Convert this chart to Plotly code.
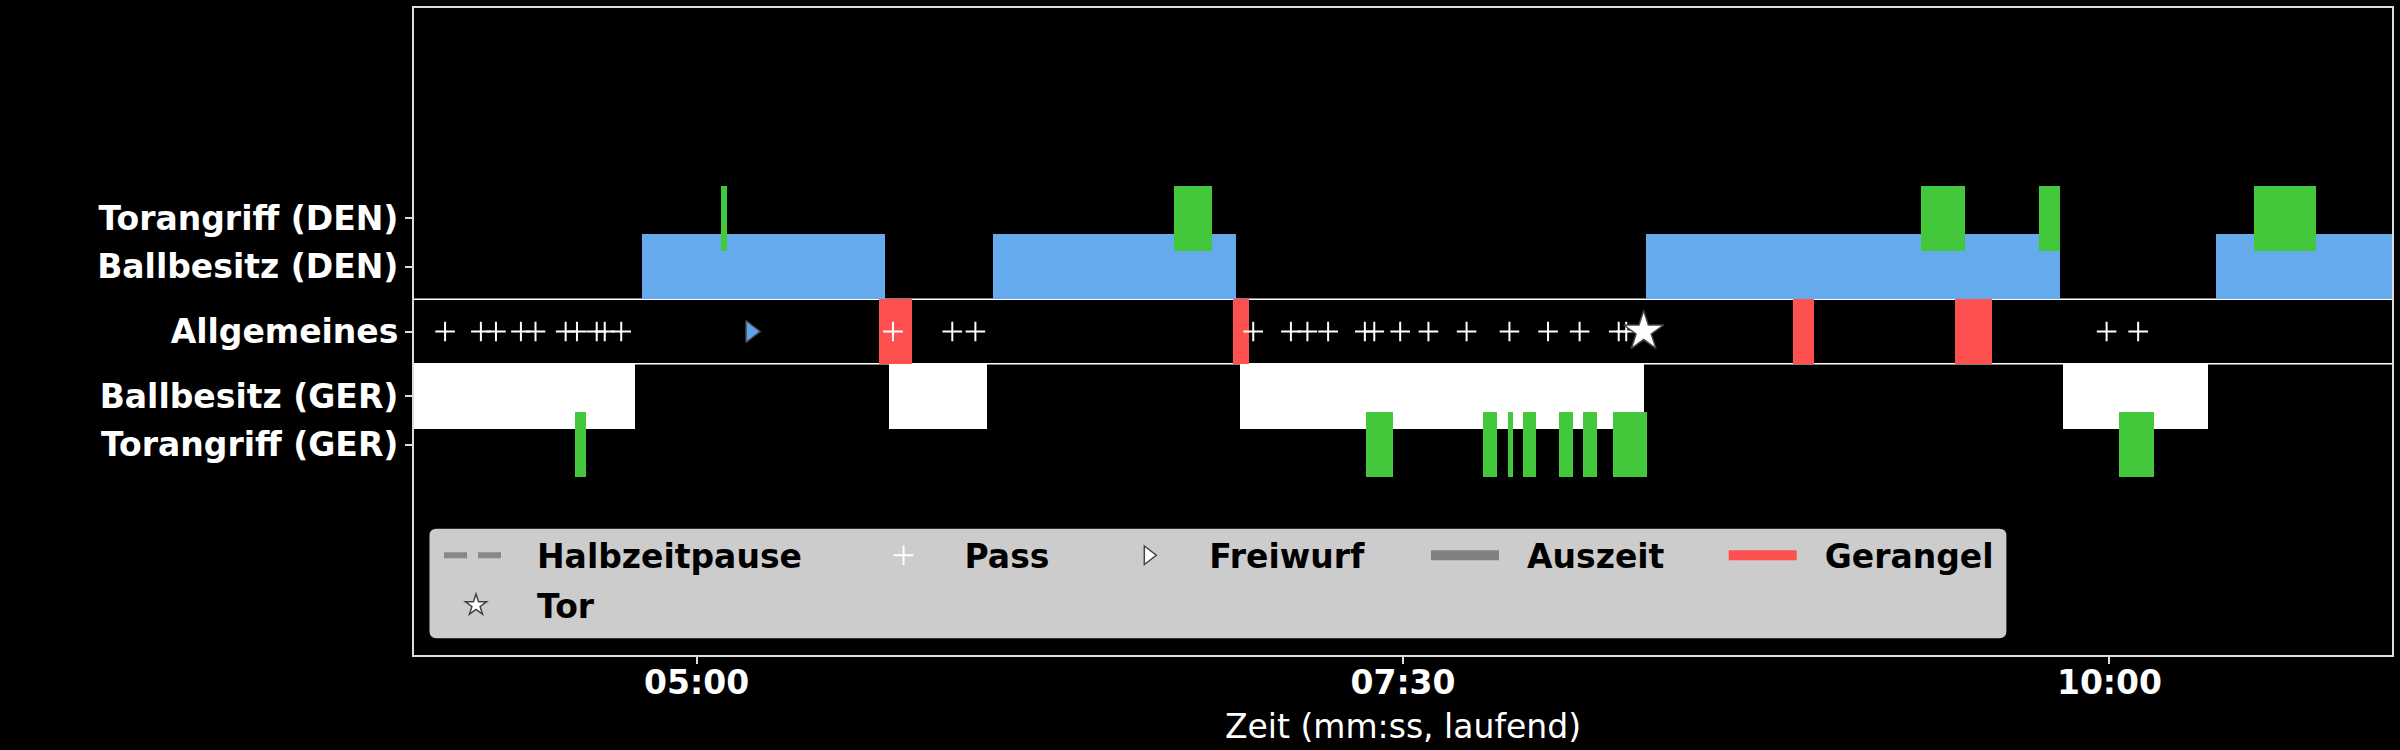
import plotly.graph_objects as go

# ---------------- data (seconds of running game time) ----------------
den_poss_start = [288.5, 362.9, 501.5, 622.6]
den_poss_end = [340.0, 414.6, 589.5, 660.0]

ger_poss_start = [240.0, 340.9, 415.3, 590.2]
ger_poss_end = [286.9, 361.7, 501.1, 621.0]

den_att_start = [305.1, 401.3, 559.9, 585.0, 630.8]
den_att_end = [306.4, 409.4, 569.4, 589.4, 643.9]

ger_att_start = [274.1, 442.2, 466.9, 472.4, 475.5, 483.1, 488.3, 494.5, 602.0]
ger_att_end = [276.5, 447.9, 470.0, 473.4, 478.2, 486.2, 491.2, 501.8, 609.5]

gerangel_start = [338.8, 413.8, 532.9, 567.3]
gerangel_end = [345.8, 417.2, 537.3, 575.1]

pass_times = [246.6, 254.2, 257.4, 262.7, 265.8, 272.2, 274.6, 278.8, 280.5, 284.0,
              341.7, 354.3, 359.2, 418.2, 426.2, 429.7, 434.1, 441.9, 443.9, 449.4,
              455.4, 463.5, 472.6, 480.8, 487.5, 495.8, 497.4, 599.4, 606.1]
freiwurf_times = [311.5]
tor_times = [501.1]

row_labels = ["Torangriff (DEN)", "Ballbesitz (DEN)", "Allgemeines",
              "Ballbesitz (GER)", "Torangriff (GER)"]
x_tick_seconds = [300, 450, 600]
x_tick_labels = ["05:00", "07:30", "10:00"]
x_title = "Zeit (mm:ss, laufend)"

# ---------------- layout constants ----------------
ROW_Y = {"Torangriff (DEN)": 1.75, "Ballbesitz (DEN)": 1.0, "Allgemeines": 0.0,
         "Ballbesitz (GER)": -1.0, "Torangriff (GER)": -1.75}
BLUE = "#66aaee"
GREEN = "#42c83a"
RED = "#ff5050"
WHITE = "#ffffff"
SPINE = "#dddddd"
FONT = "DejaVu Sans"

W, H = 2400, 750
ML, MR, MT, MB = 414, 6, 6, 95
PW, PH = W - ML - MR, H - MT - MB


def px2paper_x(px):
    return (px - ML) / PW


def px2paper_y(py):
    return (H - MB - py) / PH


fig = go.Figure()


def add_bars(starts, ends, row, color):
    fig.add_trace(go.Bar(
        orientation="h",
        base=starts,
        x=[e - s for s, e in zip(starts, ends)],
        y=[ROW_Y[row]] * len(starts),
        width=1.0,
        marker=dict(color=color, line=dict(width=0)),
        showlegend=False,
        hoverinfo="skip",
    ))


add_bars(ger_poss_start, ger_poss_end, "Ballbesitz (GER)", WHITE)
add_bars(den_poss_start, den_poss_end, "Ballbesitz (DEN)", BLUE)
add_bars(gerangel_start, gerangel_end, "Allgemeines", RED)
add_bars(den_att_start, den_att_end, "Torangriff (DEN)", GREEN)
add_bars(ger_att_start, ger_att_end, "Torangriff (GER)", GREEN)

fig.add_trace(go.Scatter(
    x=pass_times, y=[ROW_Y["Allgemeines"]] * len(pass_times), mode="markers",
    marker=dict(symbol="cross-thin", size=14, line=dict(color=WHITE, width=2)),
    showlegend=False, hoverinfo="skip"))
fig.add_trace(go.Scatter(
    x=freiwurf_times, y=[ROW_Y["Allgemeines"]] * len(freiwurf_times), mode="markers",
    marker=dict(symbol="triangle-right", size=19, color="#5ea2ea",
                line=dict(color="#444444", width=1.5)),
    showlegend=False, hoverinfo="skip"))
fig.add_trace(go.Scatter(
    x=tor_times, y=[ROW_Y["Allgemeines"]] * len(tor_times), mode="markers",
    marker=dict(symbol="star", size=30, color=WHITE,
                line=dict(color="#444444", width=1.5)),
    showlegend=False, hoverinfo="skip"))

# ---------------- legend proxies ----------------
fig.add_trace(go.Scatter(x=[None], y=[None], mode="lines", name="Halbzeitpause",
                         line=dict(color="#888888", width=6,
                                   dash="0px,24px,23px,11px,23px,300px"),
                         legend="legend"))
fig.add_trace(go.Scatter(x=[None], y=[None], mode="markers", name="Pass",
                         marker=dict(symbol="cross-thin", size=14,
                                     line=dict(color=WHITE, width=2)),
                         legend="legend2"))
fig.add_trace(go.Scatter(x=[None], y=[None], mode="markers", name="Freiwurf",
                         marker=dict(symbol="triangle-right", size=16, color=WHITE,
                                     line=dict(color="#444444", width=1.5)),
                         legend="legend3"))
fig.add_trace(go.Scatter(x=[None], y=[None], mode="lines", name="Auszeit",
                         line=dict(color="#808080", width=10,
                                   dash="0px,21px,68px,300px"),
                         legend="legend4"))
fig.add_trace(go.Scatter(x=[None], y=[None], mode="lines", name="Gerangel",
                         line=dict(color=RED, width=10,
                                   dash="0px,21px,68px,300px"),
                         legend="legend5"))
fig.add_trace(go.Scatter(x=[None], y=[None], mode="markers", name="Tor",
                         marker=dict(symbol="star", size=16, color=WHITE,
                                     line=dict(color="#444444", width=1.5)),
                         legend="legend6"))

legend_font = dict(family=FONT, size=33, color="black", weight="bold")


def legend_cfg(text_px, text_py):
    return dict(
        x=px2paper_x(text_px - 122), y=px2paper_y(text_py),
        xanchor="left", yanchor="middle", xref="paper", yref="paper",
        bgcolor="rgba(0,0,0,0)", borderwidth=0, itemwidth=112,
        font=legend_font, itemclick=False, itemdoubleclick=False,
    )


# band separators of the "Allgemeines" row
for yy in (0.5, -0.5):
    fig.add_hline(y=yy, line=dict(color=WHITE, width=1.5), layer="below")

# legend background box (rounded)
x0, x1 = px2paper_x(429.5), px2paper_x(2008)
y0, y1 = px2paper_y(638.3), px2paper_y(528.3)
rx, ry = 7 / PW, 7 / PH
path = (f"M{x0+rx},{y0} L{x1-rx},{y0} Q{x1},{y0} {x1},{y0+ry} "
        f"L{x1},{y1-ry} Q{x1},{y1} {x1-rx},{y1} L{x0+rx},{y1} "
        f"Q{x0},{y1} {x0},{y1-ry} L{x0},{y0+ry} Q{x0},{y0} {x0+rx},{y0} Z")
fig.add_shape(type="path", path=path, xref="paper", yref="paper",
              fillcolor="#cccccc", line=dict(width=0), layer="above")

axis_common = dict(
    showgrid=False, zeroline=False, showline=True, mirror=True,
    linecolor=SPINE, linewidth=2, ticks="outside", ticklen=7, tickwidth=2,
    tickcolor=SPINE,
    tickfont=dict(family=FONT, size=33, color=WHITE, weight="bold"),
)

fig.update_layout(
    width=W, height=H,
    margin=dict(l=ML, r=MR, t=MT, b=MB, pad=0),
    paper_bgcolor="black", plot_bgcolor="black",
    barmode="overlay", bargap=0,
    xaxis=dict(range=[240, 660], tickvals=x_tick_seconds, ticktext=x_tick_labels,
               ticklabelstandoff=-10,
               title=dict(text=x_title, standoff=14,
                          font=dict(family=FONT, size=33, color=WHITE)),
               **axis_common),
    yaxis=dict(range=[-5, 5], tickvals=[ROW_Y[r] for r in row_labels],
               ticktext=row_labels, **axis_common),
    legend=legend_cfg(537, 555),
    legend2=legend_cfg(965, 555),
    legend3=legend_cfg(1210, 555),
    legend4=legend_cfg(1528, 555),
    legend5=legend_cfg(1826, 555),
    legend6=legend_cfg(537, 605),
)

fig.write_html("out.html",
               config={"displayModeBar": False},
               post_script="document.body.style.margin='0px';"
                           "document.body.style.overflow='hidden';")
